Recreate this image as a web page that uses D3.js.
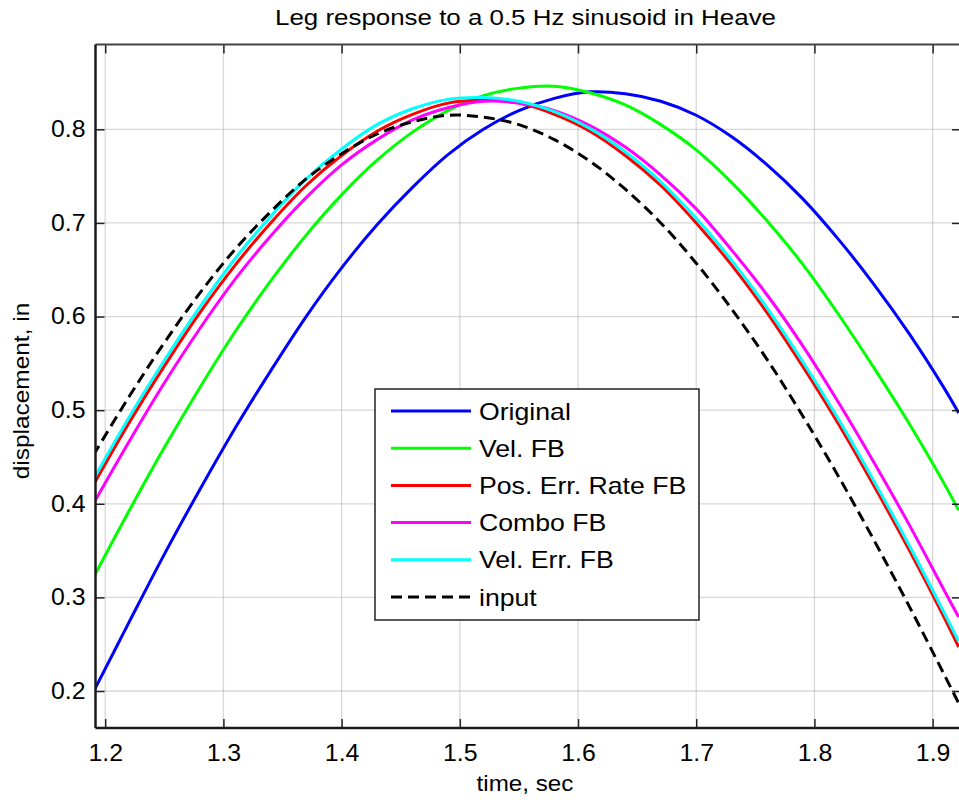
<!DOCTYPE html>
<html>
<head>
<meta charset="utf-8">
<script src="https://cdn.jsdelivr.net/npm/d3@7"></script>
<style>
  body { margin: 0; background: #fff; }
  svg { font-family: Arial, "Liberation Sans", sans-serif; }
</style>
</head>
<body>
<svg id="chart" width="959" height="800"></svg>
<script>
// sample times (sec)
const time = [1.19, 1.22, 1.25, 1.28, 1.31, 1.34, 1.37, 1.40, 1.43, 1.46, 1.49, 1.52, 1.55,
  1.58, 1.61, 1.64, 1.67, 1.70, 1.73, 1.76, 1.79, 1.82, 1.85, 1.88, 1.91, 1.922];

// displacement, in
const original = [0.199, 0.273, 0.346, 0.415, 0.481, 0.542, 0.600, 0.652, 0.698, 0.738, 0.773, 0.800, 0.820,
  0.833, 0.840, 0.838, 0.830, 0.815, 0.792, 0.762, 0.726, 0.683, 0.635, 0.582, 0.523, 0.497];
const velFB = [0.321, 0.392, 0.460, 0.524, 0.584, 0.638, 0.687, 0.730, 0.767, 0.797, 0.820, 0.836, 0.844,
  0.846, 0.839, 0.826, 0.805, 0.778, 0.743, 0.702, 0.656, 0.603, 0.546, 0.486, 0.421, 0.393];
const posErrRateFB = [0.420, 0.486, 0.547, 0.604, 0.655, 0.700, 0.740, 0.772, 0.798, 0.816, 0.828, 0.831, 0.828,
  0.816, 0.798, 0.772, 0.740, 0.700, 0.655, 0.604, 0.547, 0.486, 0.420, 0.351, 0.278, 0.247];
const comboFB = [0.400, 0.466, 0.529, 0.587, 0.640, 0.686, 0.727, 0.762, 0.789, 0.810, 0.823, 0.830, 0.828,
  0.820, 0.804, 0.781, 0.751, 0.715, 0.671, 0.623, 0.569, 0.509, 0.445, 0.378, 0.307, 0.279];
const velErrFB = [0.426, 0.492, 0.553, 0.610, 0.662, 0.707, 0.747, 0.779, 0.805, 0.822, 0.832, 0.834, 0.830,
  0.819, 0.801, 0.776, 0.744, 0.705, 0.660, 0.609, 0.552, 0.491, 0.425, 0.356, 0.283, 0.253];
const input = [0.452, 0.514, 0.572, 0.625, 0.672, 0.712, 0.747, 0.774, 0.795, 0.808, 0.815, 0.813, 0.805,
  0.789, 0.766, 0.736, 0.700, 0.657, 0.608, 0.554, 0.494, 0.430, 0.362, 0.291, 0.217, 0.187];

const xTicks = [1.2, 1.3, 1.4, 1.5, 1.6, 1.7, 1.8, 1.9];
const yTicks = [0.2, 0.3, 0.4, 0.5, 0.6, 0.7, 0.8];

const series = [
  { name: "Original", values: original, color: "#0000ff" },
  { name: "Vel. FB", values: velFB, color: "#00ff00" },
  { name: "Pos. Err. Rate FB", values: posErrRateFB, color: "#ff0000" },
  { name: "Combo FB", values: comboFB, color: "#ff00ff" },
  { name: "Vel. Err. FB", values: velErrFB, color: "#00ffff" },
  { name: "input", values: input, color: "#000000", dash: "11,6" }
];

const svg = d3.select("#chart");
const plotLeft = 95.5, plotRight = 961, plotTop = 44.5, plotBottom = 728;

const x = d3.scaleLinear().domain([1.1918, 1.924]).range([plotLeft, plotRight]);
const y = d3.scaleLinear().domain([0.1605, 0.8906]).range([plotBottom, plotTop]);

// the original text renders a little wider than Arial
function widen(sel, k) {
  sel.each(function () {
    const len = this.getComputedTextLength();
    d3.select(this).attr("textLength", len * k).attr("lengthAdjust", "spacingAndGlyphs");
  });
}

// grid
const grid = svg.append("g");
grid.selectAll(".gx").data(xTicks).enter().append("line")
  .attr("x1", d => x(d)).attr("x2", d => x(d))
  .attr("y1", plotTop).attr("y2", plotBottom)
  .attr("stroke", "#b0b0b0").attr("stroke-width", 1.3).attr("stroke-dasharray", "1,1");
grid.selectAll(".gy").data(yTicks).enter().append("line")
  .attr("x1", plotLeft).attr("x2", plotRight)
  .attr("y1", d => y(d)).attr("y2", d => y(d))
  .attr("stroke", "#b0b0b0").attr("stroke-width", 1.3).attr("stroke-dasharray", "1,1");

// curves
svg.append("clipPath").attr("id", "plotclip").append("rect")
  .attr("x", plotLeft).attr("y", plotTop).attr("width", plotRight - plotLeft).attr("height", plotBottom - plotTop);

const line = d3.line()
  .x((d, i) => x(time[i]))
  .y(d => y(d))
  .curve(d3.curveCatmullRom);

svg.append("g").attr("clip-path", "url(#plotclip)")
  .selectAll("path").data(series).enter().append("path")
  .attr("d", d => line(d.values))
  .attr("fill", "none")
  .attr("stroke", d => d.color)
  .attr("stroke-width", 3)
  .attr("stroke-dasharray", d => d.dash || null);

// axes (MATLAB style: ticks inward, box on)
const tickLen = 9;
svg.append("g").attr("transform", `translate(0,${plotBottom})`)
  .call(d3.axisBottom(x).tickValues(xTicks).tickSizeInner(-tickLen).tickSizeOuter(0).tickPadding(17).tickFormat(d3.format(".1f")))
  .call(g => g.select(".domain").remove())
  .call(g => g.selectAll("line").attr("stroke", "#222").attr("stroke-width", 1.5))
  .call(g => g.selectAll("text").attr("font-size", 23).attr("fill", "#000").attr("dy", "0.71em").call(widen, 1.08));
svg.append("g").attr("transform", `translate(0,${plotTop})`)
  .call(d3.axisTop(x).tickValues(xTicks).tickSizeInner(-tickLen).tickSizeOuter(0).tickFormat(""))
  .call(g => g.select(".domain").remove())
  .call(g => g.selectAll("line").attr("stroke", "#222").attr("stroke-width", 1.5));
svg.append("g").attr("transform", `translate(${plotLeft},0)`)
  .call(d3.axisLeft(y).tickValues(yTicks).tickSizeInner(-tickLen).tickSizeOuter(0).tickPadding(10).tickFormat(d3.format(".1f")))
  .call(g => g.select(".domain").remove())
  .call(g => g.selectAll("line").attr("stroke", "#222").attr("stroke-width", 1.5))
  .call(g => g.selectAll("text").attr("font-size", 23).attr("fill", "#000").call(widen, 1.08));
svg.append("g").attr("transform", `translate(${plotRight},0)`)
  .call(d3.axisRight(y).tickValues(yTicks).tickSizeInner(-tickLen).tickSizeOuter(0).tickFormat(""))
  .call(g => g.select(".domain").remove())
  .call(g => g.selectAll("line").attr("stroke", "#222").attr("stroke-width", 1.5));

svg.append("line").attr("x1", plotLeft).attr("x2", plotRight).attr("y1", plotTop).attr("y2", plotTop)
  .attr("stroke", "#444").attr("stroke-width", 2);
svg.append("line").attr("x1", plotLeft).attr("x2", plotRight).attr("y1", plotBottom).attr("y2", plotBottom)
  .attr("stroke", "#1a1a1a").attr("stroke-width", 2.5);
svg.append("line").attr("x1", plotLeft).attr("x2", plotLeft).attr("y1", plotTop).attr("y2", plotBottom)
  .attr("stroke", "#1a1a1a").attr("stroke-width", 2.5);

// labels
svg.append("text").attr("x", 525.5).attr("y", 25).attr("text-anchor", "middle")
  .attr("font-size", 22).attr("textLength", 501).attr("lengthAdjust", "spacingAndGlyphs")
  .text("Leg response to a 0.5 Hz sinusoid in Heave");
svg.append("text").attr("x", 525).attr("y", 791).attr("text-anchor", "middle")
  .attr("font-size", 22).call(s => s.text("time, sec")).call(widen, 1.1);
svg.append("text").attr("transform", "translate(29,391) rotate(-90)").attr("text-anchor", "middle")
  .attr("font-size", 22).call(s => s.text("displacement, in")).call(widen, 1.11);

// legend
const legend = svg.append("g");
legend.append("rect").attr("x", 375).attr("y", 389).attr("width", 324).attr("height", 231)
  .attr("fill", "#fff").attr("stroke", "#222").attr("stroke-width", 1.5);
const rows = legend.selectAll(".row").data(series).enter().append("g")
  .attr("transform", (d, i) => `translate(0,${411 + i * 37.2})`);
rows.append("line").attr("x1", 391).attr("x2", 471)
  .attr("stroke", d => d.color).attr("stroke-width", 3)
  .attr("stroke-dasharray", d => d.dash || null);
rows.append("text").attr("x", 479).attr("dy", "0.36em").attr("font-size", 24)
  .text(d => d.name).call(widen, 1.11);
</script>
</body>
</html>
